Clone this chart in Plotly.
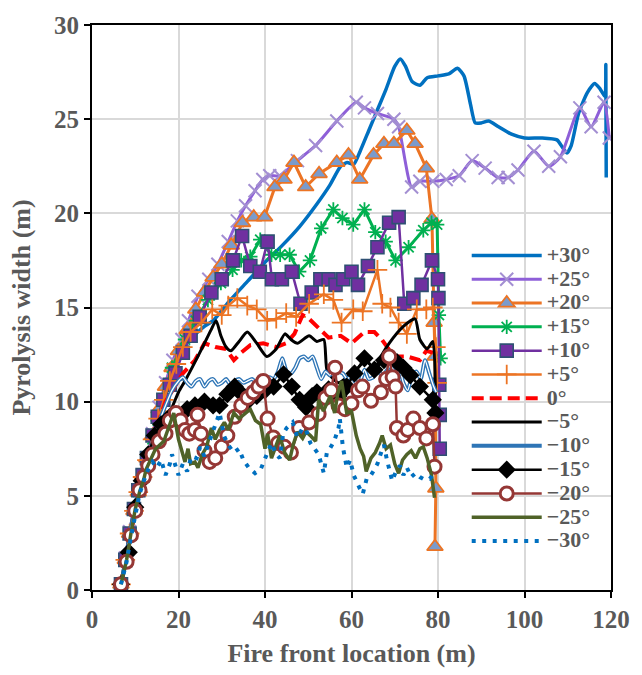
import plotly.graph_objects as go

# ---------------- data (fire front location x, pyrolysis width y) ----------------
P30 = [(6.7,0.3),(7.7,1.6),(8.7,3.0),(9.7,4.2),(10.7,5.2),(11.7,6.0),(12.7,6.8),(14,8.0),(15.5,9.3),(17,10.5),
       (18.5,11.5),(20,12.4),(22,13.1),(24,13.6),(26,14.0),(28,14.3),(32,15.4),(36,16.4),(40,17.4),(44,18.3),
       (48,19.3),(52,20.5),(55,21.5),(57.5,22.5),(59,22.7),(60.5,22.6),(62,23.3),(64,24.4),(66,25.5),(68,26.6),
       (70,27.8),(71.3,28.2),(72.5,27.8),(74,27.0),(75.8,26.8),(77.5,27.2),(80,27.3),(82.5,27.4),(84.5,27.7),
       (86,27.3),(87.5,25.8),(88.6,24.8),(90,24.8),(91.7,24.9),(94,24.6),(97,24.2),(100,24.0),(104,24.0),
       (107.5,23.9),(108.5,23.6),(109.8,23.2),(110.8,23.6),(112.5,25.3),(114.5,26.4),(116.2,26.9),(117.5,26.6),
       (118.6,26.2),(118.8,27.9),(118.9,21.9)]
P25 = [(6.7,0.3),(7.7,1.7),(8.7,3.1),(9.7,4.3),(10.7,5.3),(11.7,6.1),(12.7,7.0),(14,8.3),(15.5,9.7),(17,11.0),
       (18.7,12.2),(20.8,13.3),(22.3,14.3),(24.5,15.6),(27,16.5),(29.1,17.3),(31.5,18.5),(33.6,19.6),(35.5,20.4),
       (37.7,21.2),(39.5,21.8),(41.1,22.0),(43.4,22.0),(47.5,22.8),(51.7,23.6),(56.6,24.9),(61.1,25.9),(63,25.6),
       (66,25.3),(69.8,25.0),(70.9,24.6),(73.9,21.4),(75.8,21.7),(78.8,21.7),(81.9,21.8),(84.9,22.0),(87.9,22.8),
       (90.9,22.4),(93.9,21.9),(96.2,21.9),(98.5,22.3),(102.2,23.3),(105.6,22.5),(108.3,23.0),(112.8,25.6),
       (115.4,24.6),(118.4,25.9),(119.6,24.0)]
P20 = [(6.7,0.3),(7.7,1.6),(8.7,3.0),(9.7,4.2),(10.7,5.2),(11.7,6.1),(12.7,7.0),(14,8.2),(15.5,9.6),(17,10.8),
       (18.5,11.8),(20,12.7),(22,13.8),(24,14.9),(26,15.8),(28,16.6),(30,17.3),(32.2,18.3),(34.8,19.5),(37.4,19.8),
       (39.9,19.8),(42.3,21.4),(44.4,21.8),(46.7,22.7),(49.4,21.4),(52.5,22.1),(56.6,22.7),(59.3,23.1),(61.9,21.8),
       (65.1,23.1),(67.5,23.7),(69.8,23.7),(72.8,24.4),(74.7,23.7),(77.3,22.4),(78.6,19.7),(79.1,14.2),(79.3,12.4),
       (79.5,5.4),(79.3,2.3)]
P15 = [(6.7,0.3),(7.7,1.6),(8.7,3.0),(9.7,4.2),(10.7,5.2),(11.7,6.0),(12.7,6.9),(14,8.0),(15.2,9.0),(16.5,10.1),
       (18.5,11.8),(21.5,13.3),(24,14.3),(26.8,15.4),(29.8,16.3),(32.5,17.0),(34.5,17.5),(36.6,17.7),(38.9,18.6),
       (41.5,17.8),(43.5,17.8),(45.7,17.8),(47.9,16.9),(50.4,17.5),(53,19.2),(55.8,20.2),(57.9,19.75),(60.4,19.4),
       (63,20.2),(65.5,19.0),(67.9,18.5),(70.2,17.5),(73.2,18.2),(76.6,19.1),(78.5,19.5),(79.8,19.4),(80.2,14.6),
       (80.6,12.3)]
P10 = [(6.7,0.3),(7.7,1.6),(8.7,3.0),(9.7,4.3),(10.7,5.3),(11.7,6.1),(12.7,7.0),(14,8.2),(15.2,9.2),(16.5,10.1),
       (18,10.9),(19.3,11.5),(21,12.6),(22.8,13.5),(24.9,14.5),(27.6,15.8),(30,16.5),(32.6,17.5),(34.7,18.8),
       (36.6,17.2),(38.8,16.9),(40.6,18.5),(41.6,16.5),(43.9,16.5),(46.2,16.9),(48.2,15.2),(50.8,15.8),(52.8,16.5),
       (54.7,16.5),(56.3,16.2),(58.1,16.5),(60,16.9),(61.5,16.2),(63.8,17.2),(66,18.2),(68.7,19.5),(70.9,19.8),
       (72.2,15.2),(74.3,15.5),(76.2,16.2),(78.6,17.5),(80,16.5),(80.1,15.5),(80.3,10.9),(80.4,9.3),(80.4,7.5)]
P5 = [(6.7,0.3),(7.7,1.6),(8.7,3.0),(9.7,4.2),(10.7,5.2),(11.7,6.0),(12.7,6.9),(14,8.0),(15.3,9.1),(16.6,10.1),
      (18,11.1),(19.5,12.0),(21,12.9),(22.8,13.7),(25.3,14.2),(27.8,14.9),(30,14.6),(31.5,15.1),(33.6,15.5),
      (35.9,15.1),(38.1,14.9),(40.5,14.3),(42.6,14.4),(44.9,14.7),(47.2,14.5),(50.2,15.2),(53.6,15.7),(55.8,15.4),
      (57.7,14.2),(60.4,14.9),(62.6,14.8),(66,17.0),(67.1,15.2),(69,15.0),(70.9,14.2),(72.8,13.6),(75.1,14.9),
      (77.3,14.9),(78.8,15.0),(79.5,12.9),(79.8,11.0)]
Z0 = [(6.7,0.3),(7.7,1.5),(8.7,2.9),(9.7,4.1),(10.7,5.1),(11.7,5.9),(12.7,6.7),(14,7.8),(15.5,9.0),(17,10.0),
      (19,10.8),(21,11.5),(23.8,12.2),(26,13.1),(28.5,12.9),(31,12.8),(32.8,12.2),(34.5,12.6),(36.6,13.0),
      (39.6,13.1),(42.6,12.9),(44.9,13.1),(46.8,13.6),(48.7,14.6),(50.2,14.4),(52.4,13.9),(54.7,13.4),(57.5,13.5),
      (60,13.1),(63,13.7),(65.3,13.7),(67,13.3),(69.8,12.4),(72.8,12.4),(75.8,12.2),(77.3,12.7),(78.8,12.6)]
M5 = [(6.7,0.3),(7.7,1.5),(8.7,2.9),(9.7,4.1),(10.7,5.1),(11.7,5.9),(12.7,6.7),(14,7.7),(15.5,8.5),(16.6,9.2),
      (17.5,9.3),(18.5,9.7),(20,10.5),(21.5,11.1),(23.8,12.1),(26,13.1),(27.5,13.8),(28.7,14.3),(29.8,13.5),
      (31,12.9),(32.1,12.7),(34,13.2),(35.9,13.7),(38.1,13.1),(40.4,12.4),(42.6,12.8),(44.6,13.6),(46,13.3),
      (47.5,13.1),(50.2,13.5),(52,13.2),(53.6,13.3),(54.4,11.6),(57,11.0),(59,11.3),(60.7,11.6),(63.4,12.2),
      (65.3,11.7),(66.8,12.4),(68.7,13.1),(72,14.0),(74.7,14.4),(75.8,13.3),(77.5,12.8),(78.8,13.2),(79.4,10.3)]
M10 = [(6.7,0.3),(7.7,1.5),(8.7,2.9),(9.7,4.1),(10.7,5.1),(11.7,5.9),(12.7,6.8),(14,7.8),(15,8.6),(17,9.8),
       (18.5,10.6),(20,11.1),(21,11.3),(22,11.0),(23,10.8),(24,11.1),(25,11.2),(26,10.8),(27,11.1),(28,11.2),
       (29,10.9),(30,11.0),(31,11.2),(32,10.9),(33,11.1),(34,11.2),(35,11.0),(36,11.1),(37,11.2),(38,11.0),
       (39,10.9),(40,11.1),(41,11.3),(42,11.2),(43,11.6),(44,12.3),(45,11.6),(46,11.5),(47,11.8),(48,12.3),
       (49,12.4),(50,12.2),(51,12.4),(52,11.8),(53,11.2),(54,11.6),(55,11.4),(56,11.8),(57,11.6),(58,11.5),
       (59,11.2),(60,11.4),(61,11.0),(62,11.1),(63,11.7),(64,11.2),(65,11.3),(66,11.9),(67,11.3),(68,11.6),
       (69,11.9),(70,11.6),(71,11.8),(72,11.0),(73,10.6),(74,11.4),(75,11.6),(76,11.2),(77,12.2),(78,11.5),
       (79,10.8),(79.6,10.5)]
M15 = [(6.7,0.3),(8.5,2.0),(10,4.4),(11.5,5.8),(13,7.2),(14.5,8.2),(16,8.8),(18,9.2),(20,9.3),(22,9.6),
       (23.8,9.8),(26,10.0),(28,9.8),(29.5,9.8),(31.3,10.4),(33,10.8),(34.2,10.5),(35.9,10.0),(38.1,10.3),
       (40,10.6),(42,10.8),(44.3,11.45),(46.2,10.8),(48,10.1),(49.5,9.7),(50.9,10.3),(52,10.5),(54.7,10.65),
       (57,10.3),(58.9,10.8),(60.7,11.5),(63,12.3),(65.3,11.7),(67.5,12.2),(70.5,12.1),(72,11.8),(73.6,11.4),
       (75.8,10.8),(78.8,10.1),(79.4,9.4)]
M20 = [(6.7,0.3),(8,1.5),(9,2.9),(10,4.2),(11,5.3),(12,6.0),(13,6.6),(14,7.2),(15.5,7.9),(17,8.3),(18,9.0),
       (19.4,9.4),(20.5,9.0),(21.5,8.5),(22.5,8.3),(23.8,8.5),(24.4,9.3),(25.2,8.3),(26,7.4),(27.2,6.8),(28.5,7.0),
       (30,7.6),(31.3,8.2),(33,9.2),(34.5,9.8),(36,10.2),(37.3,10.5),(38.5,10.8),(39.6,11.1),(40.6,9.1),(41.9,8.1),
       (43,7.8),(44.5,7.6),(46,7.3),(47.9,8.6),(50.2,8.9),(52.4,9.35),(54,10.2),(55.3,10.6),(56.2,11.8),(57,9.8),
       (58.5,9.6),(60,9.9),(61.5,10.6),(62.5,10.8),(64.5,10.05),(66.8,10.5),(68,11.2),(68.7,12.4),(69.5,11.3),
       (70.2,10.8),(70.5,8.6),(72,8.2),(73,8.5),(74.3,9.1),(75.8,8.6),(77.3,8.05),(78.8,8.8),(79.2,6.55)]
M25 = [(6.7,0.3),(8,1.6),(9,3.0),(10,4.3),(11,5.2),(12,5.9),(12.5,6.4),(13.5,6.9),(14.7,7.5),(16.6,7.9),
       (17.7,8.6),(18.9,9.4),(20,8.0),(21.5,6.8),(22.2,7.5),(22.8,6.7),(23.8,6.8),(24.5,6.5),(25.5,7.2),(26.5,7.6),
       (27.6,8.6),(28.5,8.0),(29.5,8.5),(30.6,8.9),(31.5,8.5),(32.8,9.4),(34,9.1),(35,9.3),(36.6,9.6),(37.8,9.0),
       (39,8.8),(40,7.5),(40.6,8.3),(41.5,7.0),(42.5,7.6),(43.4,8.2),(44.5,7.3),(45.7,6.9),(46.5,7.7),(47.5,8.4),
       (48.7,8.05),(49.5,8.4),(50.5,8.2),(51.7,7.9),(52.4,10.1),(53.5,9.5),(55.1,10.3),(56.1,9.4),(56.8,10.4),
       (57.7,11.1),(58.9,9.4),(60,9.5),(61.1,8.2),(62,7.5),(62.8,7.1),(63.4,6.3),(64.5,7.0),(65.5,7.3),(66.5,7.8),
       (67.1,8.2),(68,7.5),(69,7.7),(70,6.7),(70.9,6.2),(71.8,6.9),(72.8,7.2),(73.8,7.4),(74.8,7.0),(75.8,7.5),
       (76.6,7.6),(77.5,7.0),(78.5,6.1),(79.2,4.9)]
M30 = [(6.7,0.3),(8,1.5),(9,2.8),(10,4.1),(11,5.1),(12,5.8),(13,6.4),(14,6.8),(15,6.5),(16,6.9),(17,6.1),
       (18,6.7),(18.5,7.2),(19.3,6.6),(20,6.1),(21,6.7),(22,6.3),(23,7.1),(24.2,7.0),(25,7.6),(26,7.1),(27,7.8),
       (28.3,8.6),(29.5,9.4),(30.5,8.2),(31.5,7.7),(32.8,7.3),(34,7.5),(35,6.9),(36.2,6.5),(37.7,6.2),(39,6.4),
       (40.4,7.2),(41.5,7.8),(42.6,7.2),(43.4,7.0),(44.2,8.3),(45,8.6),(46.4,8.9),(47.5,8.1),(48.7,8.6),(49.5,8.5),
       (50.5,7.8),(51.5,7.5),(52.4,7.2),(53.6,6.2),(54.3,7.3),(55,7.5),(56,7.9),(57,8.6),(57.3,9.1),(58,7.6),
       (58.9,6.5),(59.7,6.9),(60.5,6.1),(61.9,5.4),(62.6,5.1),(63.5,5.9),(64.5,6.1),(65.3,6.4),(66,6.7),(67,7.4),
       (67.5,7.7),(68.2,6.9),(69.4,5.8),(70.3,6.3),(71.2,6.6),(72,6.1),(72.8,6.5),(73.8,6.0),(74.8,6.2),(75.8,6.0),
       (76.6,5.9),(78.1,5.9),(79,6.2)]

LABELS = ["+30°", "+25°", "+20°", "+15°", "+10°", "+5°", "0°", "−5°", "−10°", "−15°", "−20°", "−25°", "−30°"]
X_TICKS = [0, 20, 40, 60, 80, 100, 120]
Y_TICKS = [0, 5, 10, 15, 20, 25, 30]

FONT = "Liberation Serif"
GREY = "#595959"


def xy(pts):
    return [p[0] for p in pts], [p[1] for p in pts]


def lab(t):
    return '<span style="font-size:22px">' + t + '</span>'


fig = go.Figure()


def add(pts, name, line, marker=None, shape="linear", showlegend=True):
    x, y = xy(pts)
    kw = dict(x=x, y=y, name=lab(name), showlegend=showlegend,
              line=dict(shape=shape, **line))
    if shape == "spline":
        kw["line"]["smoothing"] = 0.6
    if marker:
        kw["mode"] = "lines+markers"
        kw["marker"] = marker
    else:
        kw["mode"] = "lines"
    fig.add_trace(go.Scatter(**kw))


add(P30, LABELS[0], dict(color="#0070C0", width=3.5), shape="spline")
add(P25, LABELS[1], dict(color="#8E5FD8", width=3),
    dict(symbol="x-thin", size=13, line=dict(color="#A38FD2", width=2)), shape="spline")
add(P20, LABELS[2], dict(color="#EC7424", width=3),
    dict(symbol="triangle-up", size=14, color="#7A9BCC", line=dict(color="#EC7424", width=1.8)))
add(P15, LABELS[3], dict(color="#00B050", width=3),
    dict(symbol="asterisk", size=12, line=dict(color="#00B050", width=1.8)))
add(P10, LABELS[4], dict(color="#7030A0", width=2.5),
    dict(symbol="square", size=13, color="#7030A0", line=dict(color="#2F5073", width=1.6)))
add(P5, LABELS[5], dict(color="#EC7424", width=2.5),
    dict(symbol="cross-thin", size=14, line=dict(color="#EC7424", width=1.8)))
add(Z0, LABELS[6], dict(color="#FF0000", width=4, dash="12px,6px"))
add(M5, LABELS[7], dict(color="#000000", width=3), shape="spline")
add(M10, LABELS[8], dict(color="#2E75B6", width=4), shape="spline")
add(M10, LABELS[8], dict(color="#FFFFFF", width=1.3), shape="spline", showlegend=False)
add(M15, LABELS[9], dict(color="#000000", width=2.5),
    dict(symbol="diamond", size=14, color="#000000"))
add(M20, LABELS[10], dict(color="#953735", width=2.5),
    dict(symbol="circle", size=13, color="#FFFFFF", line=dict(color="#953735", width=3)))
add(M25, LABELS[11], dict(color="#4F6228", width=3.5))
add(M30, LABELS[12], dict(color="#0070C0", width=4, dash="4px,6.5px"))

axis_common = dict(
    showline=True, linecolor="black", linewidth=2, mirror=True,
    showgrid=True, gridcolor="#D9D9D9", gridwidth=1.5,
    ticks="outside", ticklen=6, tickcolor="black", tickwidth=1.5,
    tickfont=dict(family=FONT, size=25, color=GREY, weight="bold"),
    zeroline=False,
)

fig.update_xaxes(range=[0, 120], tickvals=X_TICKS, **axis_common,
                 title=dict(text="Fire front location (m)", standoff=12,
                            font=dict(family=FONT, size=26, color=GREY, weight="bold")))
fig.update_yaxes(range=[0, 30], tickvals=Y_TICKS, **axis_common,
                 title=dict(text="Pyrolysis width (m)", standoff=16,
                            font=dict(family=FONT, size=26, color=GREY, weight="bold")))

fig.update_layout(
    width=642, height=675,
    margin=dict(l=92, r=20, t=18, b=85),
    plot_bgcolor="white", paper_bgcolor="white",
    legend=dict(x=0.722, y=0.622, xanchor="left", yanchor="top",
                bgcolor="rgba(0,0,0,0)", itemwidth=70, tracegroupgap=0,
                font=dict(family=FONT, size=16, color=GREY, weight="bold")),
)

fig.write_html("out.html")
